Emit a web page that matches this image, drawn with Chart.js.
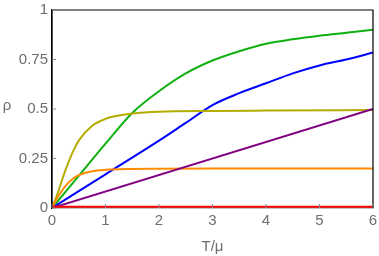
<!DOCTYPE html>
<html>
<head>
<meta charset="utf-8">
<script src="https://cdn.jsdelivr.net/npm/chart.js@4"></script>
<style>
  html, body { margin: 0; padding: 0; background: #fff; }
  #wrap { width: 379px; height: 256px; }
</style>
</head>
<body>
<div id="wrap"><canvas id="rhoChart"></canvas></div>
<script>
// data
const greenX = [0, 0.5, 1, 1.5, 2, 2.5, 3, 3.5, 4, 4.5, 5, 5.5, 6];
const greenY = [0, 0.162, 0.325, 0.48, 0.59, 0.68, 0.745, 0.792, 0.83, 0.852, 0.87, 0.885, 0.9];
const blueX = [0, 1, 2, 2.5, 3, 3.5, 4, 4.5, 5, 5.5, 6];
const blueY = [0, 0.17, 0.34, 0.43, 0.52, 0.58, 0.63, 0.68, 0.72, 0.75, 0.785];
const purpleX = [0, 6];
const purpleY = [0, 0.5];
const oliveX = [0, 0.1, 0.25, 0.4, 0.5, 0.75, 1, 1.25, 1.5, 2, 3, 4, 6];
const oliveY = [0, 0.07, 0.19, 0.29, 0.34, 0.415, 0.45, 0.467, 0.477, 0.486, 0.49, 0.492, 0.495];
const orangeX = [0, 0.1, 0.25, 0.4, 0.5, 0.75, 1, 1.5, 2, 3, 6];
const orangeY = [0, 0.05, 0.11, 0.15, 0.166, 0.186, 0.193, 0.197, 0.198, 0.199, 0.2];
const redX = [0, 6];
const redY = [0.006, 0.006];
const xTicks = [0, 1, 2, 3, 4, 5, 6];
const yTicks = [0, 0.25, 0.5, 0.75, 1];

const pts = (xs, ys) => xs.map((x, i) => ({ x: x, y: ys[i] }));
const line = (xs, ys, color) => ({
  data: pts(xs, ys),
  borderColor: color,
  borderWidth: 2,
  pointRadius: 0,
  cubicInterpolationMode: "monotone",
  fill: false
});

const gray = "#6e6e6e";
const font = { family: "Arial, 'Liberation Sans', sans-serif", size: 15 };

// frame box, inward ticks and the upright ρ label
const framePlugin = {
  id: "frame",
  afterDatasetsDraw(chart) {
    const { ctx, chartArea: a, scales } = chart;
    ctx.save();
    ctx.strokeStyle = "#000";
    ctx.lineWidth = 1.2;
    ctx.beginPath();
    ctx.moveTo(a.left, a.bottom);
    ctx.lineTo(a.left, a.top);
    ctx.lineTo(a.right, a.top);
    ctx.lineTo(a.right, a.bottom);
    ctx.stroke();
    ctx.strokeStyle = "#888";
    ctx.lineWidth = 1;
    xTicks.forEach(v => {
      const px = scales.x.getPixelForValue(v);
      ctx.beginPath();
      ctx.moveTo(px, a.bottom);
      ctx.lineTo(px, a.bottom - 4);
      ctx.stroke();
    });
    yTicks.forEach(v => {
      const py = scales.y.getPixelForValue(v);
      ctx.beginPath();
      ctx.moveTo(a.left, py);
      ctx.lineTo(a.left + 4, py);
      ctx.stroke();
    });
    ctx.fillStyle = gray;
    ctx.font = "15px Arial, 'Liberation Sans', sans-serif";
    ctx.textAlign = "center";
    ctx.textBaseline = "middle";
    ctx.fillText("\u03c1", 7, (a.top + a.bottom) / 2 - 3);
    ctx.restore();
  }
};

new Chart(document.getElementById("rhoChart"), {
  type: "line",
  data: {
    datasets: [
      line(redX, redY, "#ff0000"),
      line(purpleX, purpleY, "#800080"),
      line(orangeX, orangeY, "#ff8c00"),
      line(oliveX, oliveY, "#b4ac00"),
      line(blueX, blueY, "#0000ff"),
      line(greenX, greenY, "#10b010")
    ]
  },
  options: {
    responsive: true,
    maintainAspectRatio: false,
    animation: false,
    layout: { padding: { top: 10, right: 6, left: 0, bottom: 0 } },
    plugins: { legend: { display: false }, tooltip: { enabled: false } },
    scales: {
      x: {
        type: "linear",
        min: 0,
        max: 6,
        afterBuildTicks: s => { s.ticks = xTicks.map(v => ({ value: v })); },
        afterFit: s => { s.paddingRight = 0; s.paddingLeft = 0; },
        grid: { display: false, drawTicks: false },
        border: { display: true, color: "#888", width: 1.5 },
        ticks: { color: gray, font: font, padding: 4, callback: v => String(v) },
        title: { display: true, text: "T/\u03bc", color: gray, font: font, padding: { top: 4, bottom: 0 } }
      },
      y: {
        min: 0,
        max: 1,
        afterBuildTicks: s => { s.ticks = yTicks.map(v => ({ value: v })); },
        afterFit: s => { s.width = 52; s.paddingTop = 0; s.paddingBottom = 0; },
        grid: { display: false, drawTicks: false },
        border: { display: true, color: "#000", width: 1.2 },
        ticks: { color: gray, font: font, padding: 4, callback: v => String(v) }
      }
    }
  },
  plugins: [framePlugin]
});
</script>
</body>
</html>
